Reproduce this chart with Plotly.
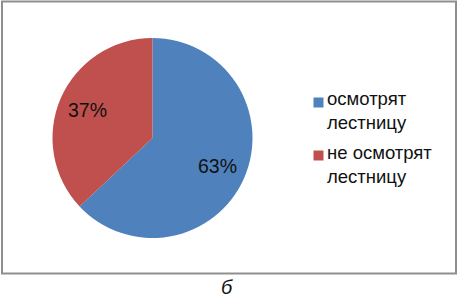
import math
import plotly.graph_objects as go

# ---- data ----
labels = ["осмотрят лестницу", "не осмотрят лестницу"]
values = [63, 37]
colors = ["#4F81BD", "#C0504D"]
caption = "б"

W, H = 458, 299
FONT = "Arial, Liberation Sans, sans-serif"
TXT = "#111111"

# pie placement (pixels)
cx, cy, R = 152.5, 138.0, 100.0

def px(x):
    return x / W

def py(y):
    return 1 - y / H

fig = go.Figure()
fig.add_trace(go.Pie(
    labels=labels,
    values=values,
    marker=dict(colors=colors, line=dict(width=0)),
    sort=False,
    direction="clockwise",
    rotation=0,
    textinfo="none",
    hoverinfo="label+percent",
    showlegend=False,
    domain=dict(x=[px(cx - R), px(cx + R)], y=[py(cy + R), py(cy - R)]),
))

annotations = []
shapes = []

# percentage labels placed along slice mid-angles
total = sum(values)
cum = 0.0
for v in values:
    frac = v / total
    mid = (cum + frac / 2) * 2 * math.pi
    cum += frac
    r = 0.71 * R
    x = cx + r * math.sin(mid)
    y = cy - r * math.cos(mid)
    annotations.append(dict(
        x=px(x), y=py(y), xref="paper", yref="paper",
        text=f"{round(frac * 100)}%", showarrow=False,
        xanchor="center", yanchor="middle",
        font=dict(family=FONT, size=19.5, color=TXT),
    ))

# legend (manual, to match layout: square aligned with first text line)
entry_top = [97.5, 150.5]
for i, (lab, col) in enumerate(zip(labels, colors)):
    top = entry_top[i]
    shapes.append(dict(type="rect", xref="paper", yref="paper",
                       x0=px(313.5), x1=px(323.5), y0=py(top), y1=py(top + 10),
                       fillcolor=col, line=dict(width=0)))
    text = "<br>".join(lab.rsplit(" ", 1))
    annotations.append(dict(
        x=px(325), y=py(top + 13.5), xref="paper", yref="paper",
        text=text, showarrow=False, xanchor="left", yanchor="middle", align="left",
        font=dict(family=FONT, size=18.5, color=TXT),
    ))

# outer border of chart area
shapes.append(dict(type="rect", xref="paper", yref="paper",
                   x0=px(2), x1=px(456), y0=py(1.5), y1=py(273.5),
                   line=dict(color="#8f8f8f", width=2), fillcolor="rgba(0,0,0,0)"))

# caption
annotations.append(dict(
    x=px(227), y=py(287), xref="paper", yref="paper",
    text=f"<i>{caption}</i>", showarrow=False, xanchor="center", yanchor="middle",
    font=dict(family=FONT, size=20, color="#111111"),
))

fig.update_layout(
    width=W, height=H,
    margin=dict(l=0, r=0, t=0, b=0),
    paper_bgcolor="white", plot_bgcolor="white",
    annotations=annotations, shapes=shapes,
    showlegend=False,
)

fig.write_html(
    "out.html",
    config=dict(displayModeBar=False),
    post_script="document.body.style.margin='0';document.body.style.overflow='hidden';",
)
